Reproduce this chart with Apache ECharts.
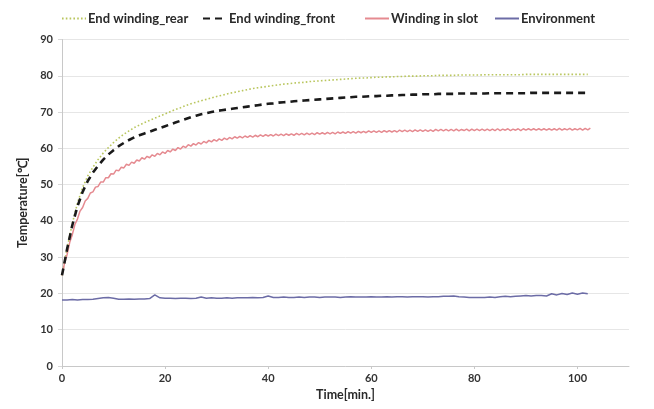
<!DOCTYPE html>
<html>
<head>
<meta charset="utf-8">
<script src="https://cdn.jsdelivr.net/npm/echarts@6/dist/echarts.min.js"></script>
<style>
html,body{margin:0;padding:0;background:#fff;}
#chart{width:654px;height:409px;}
</style>
</head>
<body>
<div id="chart"></div>
<script>
// ---- data ----
const seriesNames = ['End winding_rear', 'End winding_front', 'Winding in slot', 'Environment'];
const xTicks = [0, 20, 40, 60, 80, 100];
const yTicks = [0, 10, 20, 30, 40, 50, 60, 70, 80, 90];

// sampled every 1 minute from t = 0
const oneMinStep = 1;
const rearTemp = [
25.0,32.5,39.3,44.9,49.2,52.4,54.8,56.9,58.7,60.2,61.6,62.8,63.9,64.8,65.7,66.4,67.1,67.7,68.3,68.9,
69.5,70.1,70.7,71.2,71.8,72.3,72.7,73.1,73.5,73.9,74.3,74.6,75.0,75.3,75.6,75.9,76.2,76.5,76.7,76.9,
77.1,77.3,77.5,77.7,77.8,78.0,78.1,78.2,78.4,78.5,78.6,78.7,78.8,78.9,79.0,79.1,79.2,79.3,79.4,79.4,
79.5,79.6,79.6,79.7,79.7,79.8,79.8,79.9,79.9,79.9,80.0,80.0,80.0,80.1,80.1,80.1,80.1,80.2,80.2,80.2,
80.2,80.2,80.3,80.3,80.3,80.3,80.3,80.3,80.3,80.3,80.4,80.4,80.4,80.4,80.4,80.4,80.4,80.4,80.4,80.4,
80.4,80.4,80.4
];
const frontTemp = [
25.0,32.3,38.8,44.0,48.0,51.0,53.3,55.2,56.9,58.3,59.5,60.6,61.5,62.3,63.0,63.6,64.1,64.6,65.1,65.6,
66.1,66.6,67.1,67.6,68.1,68.6,69.0,69.4,69.7,70.0,70.3,70.5,70.7,70.9,71.1,71.3,71.5,71.7,71.9,72.1,
72.3,72.4,72.6,72.7,72.8,73.0,73.1,73.2,73.3,73.4,73.5,73.6,73.7,73.8,73.9,74.0,74.1,74.2,74.2,74.3,
74.4,74.4,74.5,74.5,74.6,74.6,74.7,74.7,74.8,74.8,74.9,74.9,74.9,75.0,75.0,75.0,75.0,75.1,75.1,75.1,
75.1,75.1,75.1,75.2,75.2,75.2,75.2,75.2,75.2,75.2,75.2,75.3,75.3,75.3,75.3,75.3,75.3,75.3,75.3,75.3,
75.3,75.3,75.3
];
const envTemp = [
18.2,18.2,18.3,18.2,18.3,18.3,18.4,18.6,18.8,18.9,18.7,18.4,18.4,18.5,18.4,18.5,18.5,18.6,19.6,18.8,
18.7,18.7,18.6,18.7,18.7,18.6,18.7,19.0,18.7,18.8,18.7,18.7,18.8,18.7,18.8,18.8,18.8,18.9,18.8,18.9,
19.3,18.9,18.9,19.0,18.9,18.9,19.0,18.9,19.0,19.0,18.9,19.0,19.0,19.0,18.9,19.0,19.1,19.0,19.0,19.0,
19.1,19.0,19.0,19.1,19.0,19.1,19.1,19.0,19.1,19.1,19.1,19.0,19.1,19.1,19.2,19.2,19.3,19.1,19.0,18.9,
18.9,18.9,18.9,19.0,18.9,19.1,19.2,19.1,19.2,19.3,19.4,19.3,19.4,19.4,19.3,19.9,19.6,20.0,19.7,20.1,
19.8,20.1,19.9
];
// sampled every 0.5 minute from t = 0 (sensor shows a ~1 min ripple)
const halfMinStep = 0.5;
const slotTemp = [
25.0,28.4,30.8,34.1,36.2,39.0,40.5,42.7,43.7,45.5,46.2,47.7,48.0,49.3,49.5,50.7,50.7,51.9,51.9,53.0,
52.9,54.0,53.8,54.8,54.6,55.6,55.3,56.2,55.9,56.8,56.5,57.4,57.0,57.8,57.4,58.2,57.8,58.6,58.2,59.0,
58.6,59.4,59.0,59.8,59.4,60.2,59.8,60.6,60.2,61.0,60.6,61.3,60.9,61.6,61.2,61.9,61.5,62.2,61.8,62.4,
62.0,62.6,62.2,62.8,62.4,63.0,62.6,63.2,62.8,63.3,62.9,63.4,63.0,63.5,63.1,63.6,63.2,63.7,63.3,63.8,
63.4,63.8,63.4,63.9,63.5,63.9,63.5,64.0,63.6,64.0,63.6,64.1,63.7,64.1,63.7,64.2,63.8,64.2,63.8,64.3,
63.9,64.3,63.9,64.4,64.0,64.4,64.0,64.5,64.1,64.5,64.1,64.6,64.2,64.6,64.2,64.7,64.3,64.7,64.3,64.8,
64.4,64.8,64.4,64.8,64.4,64.9,64.5,64.9,64.5,64.9,64.5,65.0,64.6,65.0,64.6,65.0,64.6,65.1,64.7,65.1,
64.7,65.1,64.7,65.1,64.7,65.2,64.8,65.2,64.8,65.2,64.8,65.2,64.8,65.3,64.8,65.2,64.9,65.3,64.8,65.3,
64.9,65.3,64.9,65.3,64.9,65.3,64.9,65.3,64.9,65.4,64.9,65.3,65.0,65.4,64.9,65.3,65.0,65.4,64.9,65.4,
65.0,65.4,65.0,65.4,65.0,65.4,65.0,65.4,65.0,65.4,65.0,65.4,65.0,65.5,65.0,65.4,65.1,65.5,65.0,65.4,
65.1,65.5,65.0,65.5,65.1,65.6
];

function toPairs(values, step) {
  return values.map((v, i) => [i * step, v]);
}

const FONT = 'Lato';
const legendLefts = [61, 202, 364, 494];
const legendBase = {
  top: 12,
  padding: 0,
  itemWidth: 24,
  itemHeight: 12,
  itemStyle: { opacity: 0 },
  textStyle: { fontFamily: FONT, fontSize: 13, fontWeight: 'bold', color: '#2a2a2a', padding: [0, 0, 0, -3] }
};

const chart = echarts.init(document.getElementById('chart'));
chart.setOption({
  backgroundColor: '#ffffff',
  animation: false,
  textStyle: { fontFamily: FONT },
  legend: seriesNames.map((n, i) => Object.assign({}, legendBase, { left: legendLefts[i], data: [n] })),
  grid: { left: 62, right: 25, top: 39.5, bottom: 43, containLabel: false },
  xAxis: {
    type: 'value',
    min: 0, max: 110, interval: 20,
    name: 'Time[min.]',
    nameLocation: 'middle',
    nameGap: 20,
    nameTextStyle: { fontFamily: FONT, fontSize: 12.5, fontWeight: 'bold', color: '#2a2a2a' },
    axisLine: { show: true, lineStyle: { color: '#c8c8c8' } },
    axisTick: { show: true, inside: false, length: 3, lineStyle: { color: '#c8c8c8' } },
    axisLabel: {
      fontFamily: FONT, fontSize: 11, fontWeight: 'bold', color: '#333', margin: 7,
      showMaxLabel: false,
      formatter: v => (xTicks.indexOf(v) >= 0 ? String(v) : '')
    },
    splitLine: { show: false }
  },
  yAxis: {
    type: 'value',
    min: 0, max: 90, interval: 10,
    name: 'Temperature[\u2103]',
    nameLocation: 'middle',
    nameGap: 26,
    nameRotate: 90,
    nameTextStyle: { fontFamily: FONT, fontSize: 12.5, fontWeight: 'bold', color: '#2a2a2a' },
    axisLine: { show: true, lineStyle: { color: '#c8c8c8' } },
    axisTick: { show: true, length: 4, lineStyle: { color: '#d8d8d8' } },
    axisLabel: {
      fontFamily: FONT, fontSize: 11, fontWeight: 'bold', color: '#333', margin: 9,
      formatter: v => (yTicks.indexOf(v) >= 0 ? String(v) : '')
    },
    splitLine: { show: true, lineStyle: { color: '#e6e6e6', width: 1 } }
  },
  series: [
    {
      name: seriesNames[0], type: 'line', symbol: 'none', z: 2,
      data: toPairs(rearTemp, oneMinStep),
      lineStyle: { color: '#b9c65e', width: 1.6, type: [1.6, 2.2] },
      itemStyle: { color: '#b9c65e' }
    },
    {
      name: seriesNames[1], type: 'line', symbol: 'none', z: 4,
      data: toPairs(frontTemp, oneMinStep),
      lineStyle: { color: '#1a1a1a', width: 2.6, type: [7, 5] },
      itemStyle: { color: '#1a1a1a' }
    },
    {
      name: seriesNames[2], type: 'line', symbol: 'none', z: 3,
      data: toPairs(slotTemp, halfMinStep),
      lineStyle: { color: '#e58a90', width: 1.5 },
      itemStyle: { color: '#e58a90' }
    },
    {
      name: seriesNames[3], type: 'line', symbol: 'none', z: 3,
      data: toPairs(envTemp, oneMinStep),
      lineStyle: { color: '#6c6ca6', width: 1.5 },
      itemStyle: { color: '#6c6ca6' }
    }
  ]
});
</script>
</body>
</html>
